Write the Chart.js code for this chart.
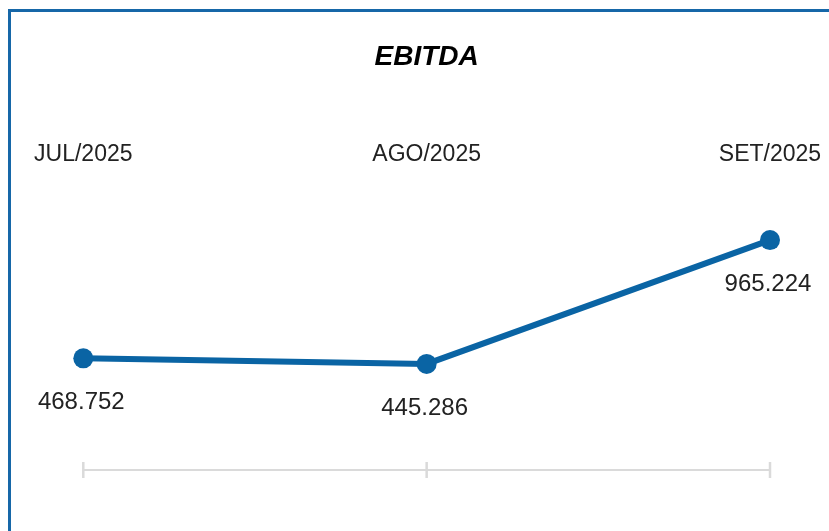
<!DOCTYPE html>
<html>
<head>
<meta charset="utf-8">
<script src="https://cdn.jsdelivr.net/npm/chart.js@4/dist/chart.umd.min.js"></script>
<style>
  html, body { margin: 0; padding: 0; background: #ffffff; }
  #wrap { position: relative; width: 829px; height: 531px; overflow: hidden; }
  #frame { position: absolute; left: 8px; top: 9px; width: 900px; height: 600px;
           border-left: 3px solid #1667a8; border-top: 3px solid #1667a8; box-sizing: border-box; }
  #c { position: absolute; left: 0; top: 0; }
</style>
</head>
<body>
<div id="wrap">
  <div id="frame"></div>
  <canvas id="c" width="829" height="531"></canvas>
</div>
<script>
const chartTitle = "EBITDA";
const categories = ["JUL/2025", "AGO/2025", "SET/2025"];
const ebitdaValues = [468752, 445286, 965224];
const yMin = 0;
const yMax = 1100000;

const lineColor = "#0a64a4";

function fmtBR(v) {
  return String(Math.round(v)).replace(/\B(?=(\d{3})+(?!\d))/g, ".");
}

const decorPlugin = {
  id: "decor",
  beforeDatasetsDraw(chart) {
    const ctx = chart.ctx;
    const xs = chart.scales.x, ys = chart.scales.y;
    const y0 = ys.getPixelForValue(0);
    ctx.save();
    ctx.strokeStyle = "#dadada";
    ctx.lineWidth = 2;
    ctx.beginPath();
    ctx.moveTo(chart.chartArea.left, y0);
    ctx.lineTo(chart.chartArea.right, y0);
    ctx.stroke();
    ctx.lineWidth = 2.5;
    categories.forEach((c, i) => {
      const x = xs.getPixelForValue(i);
      ctx.beginPath();
      ctx.moveTo(x, y0 - 8);
      ctx.lineTo(x, y0 + 8);
      ctx.stroke();
    });
    ctx.restore();
  },
  afterDatasetsDraw(chart) {
    const ctx = chart.ctx;
    const xs = chart.scales.x;
    const meta = chart.getDatasetMeta(0);
    ctx.save();
    ctx.textAlign = "center";
    ctx.textBaseline = "middle";
    ctx.fillStyle = "#222222";
    ctx.font = "23px 'Liberation Sans', Arial, sans-serif";
    categories.forEach((c, i) => {
      ctx.fillText(c, xs.getPixelForValue(i), chart.chartArea.top - 53);
    });
    ctx.font = "24px 'Liberation Sans', Arial, sans-serif";
    meta.data.forEach((pt, i) => {
      ctx.fillText(fmtBR(ebitdaValues[i]), pt.x - 2, pt.y + 44);
    });
    ctx.restore();
  }
};

new Chart(document.getElementById("c"), {
  type: "line",
  data: {
    labels: categories,
    datasets: [{
      label: chartTitle,
      data: ebitdaValues,
      borderColor: lineColor,
      backgroundColor: lineColor,
      borderWidth: 6,
      pointRadius: 10,
      pointHoverRadius: 10,
      pointBorderWidth: 0,
      pointBackgroundColor: lineColor,
      tension: 0,
      clip: false
    }]
  },
  options: {
    responsive: false,
    animation: false,
    events: [],
    layout: { padding: { left: 83.3, right: 59, top: 0, bottom: 61 } },
    plugins: {
      legend: { display: false },
      tooltip: { enabled: false },
      title: {
        display: true,
        text: chartTitle,
        color: "#000000",
        font: { family: "'Liberation Sans', Arial, sans-serif", size: 28, weight: "bold", style: "italic", lineHeight: 1.2 },
        padding: { top: 40, bottom: 134.4 }
      }
    },
    scales: {
      x: { display: false, offset: false },
      y: { display: false, min: yMin, max: yMax }
    }
  },
  plugins: [decorPlugin]
});
</script>
</body>
</html>
